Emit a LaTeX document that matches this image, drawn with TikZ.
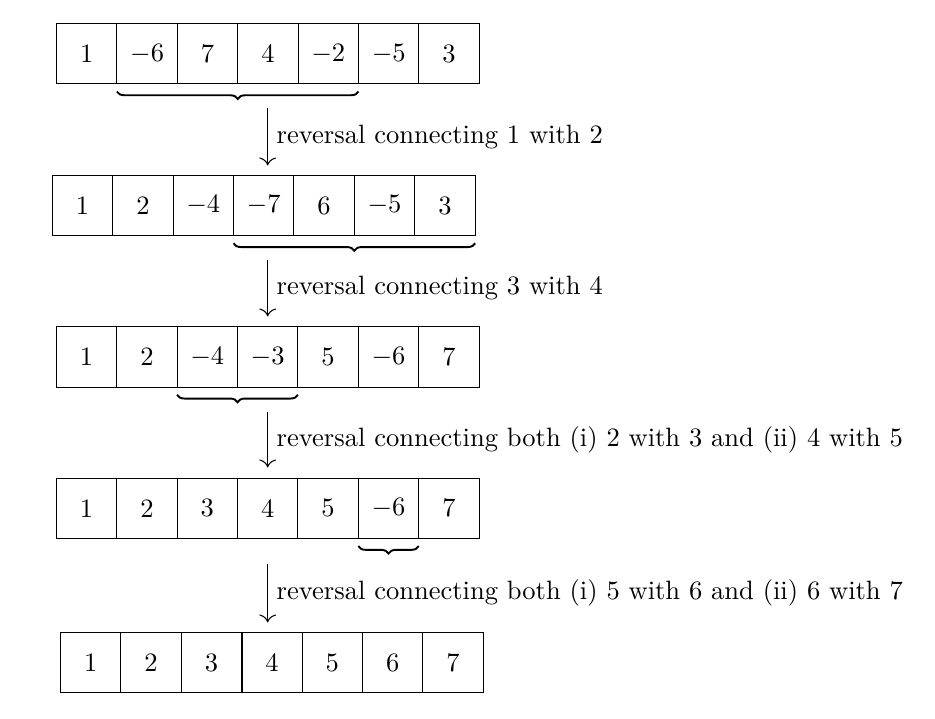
\documentclass[tikz,border=0pt]{standalone}
\usetikzlibrary{decorations.pathreplacing,arrows.meta}
\newcommand\sct[1]{\scalebox{1.25}{#1}}
\begin{document}
\begin{tikzpicture}[x=0.016556cm,y=-0.016556cm, line width=0.5pt,
  cell/.style={draw, minimum size=1cm, inner sep=0pt, outer sep=0pt, anchor=center},
  bracedeco/.style={decorate, decoration={brace, mirror, amplitude=3.5pt}, line width=0.9pt},
  steparrow/.style={-{To[scale=1.4]}},
  lbl/.style={right, inner sep=4pt}]
\useasboundingbox (0,0) rectangle (935,719);
\foreach \row/\lx/\cy/\vals in {%
  1/56.5/53.7/{1,$-6$,7,4,$-2$,$-5$,3},%
  2/52.3/205.5/{1,2,$-4$,$-7$,6,$-5$,3},%
  3/56.3/357/{1,2,$-4$,$-3$,5,$-6$,7},%
  4/56.3/508.3/{1,2,3,4,5,$-6$,7},%
  5/60.5/662.5/{1,2,3,4,5,6,7}}{%
  \foreach \v [count=\i] in \vals {%
    \node[cell] (r\row-\i) at ({\lx+(\i-0.5)*60.4},\cy) {\sct{\v}};
  }
}
% braces
\draw[bracedeco] ([yshift=-3.6pt]r1-2.south west) -- ([yshift=-3.6pt]r1-5.south east);
\draw[bracedeco] ([yshift=-3.6pt]r2-4.south west) -- ([yshift=-3.6pt]r2-7.south east);
\draw[bracedeco] ([yshift=-3.6pt]r3-3.south west) -- ([yshift=-3.6pt]r3-4.south east);
\draw[bracedeco] ([yshift=-3.6pt]r4-6.south west) -- ([yshift=-3.6pt]r4-6.south east);
% thicker separator in last row
\draw[line width=0.9pt] (r5-3.north east) -- (r5-3.south east);
% arrows
\coordinate (a1s) at (267.7,108);   \coordinate (a1e) at (267.7,165.5);
\coordinate (a2s) at (267.7,260);   \coordinate (a2e) at (267.7,316.5);
\coordinate (a3s) at (267.7,411.7); \coordinate (a3e) at (267.7,467.5);
\coordinate (a4s) at (267.7,564);   \coordinate (a4e) at (267.7,622.5);
\draw[steparrow] (a1s) -- node[lbl] (l1) {\sct{reversal connecting 1 with 2}} (a1e);
\draw[steparrow] (a2s) -- node[lbl] (l2) {\sct{reversal connecting 3 with 4}} (a2e);
\draw[steparrow] (a3s) -- node[lbl] (l3) {\sct{reversal connecting both (i) 2 with 3 and (ii) 4 with 5}} (a3e);
\draw[steparrow] (a4s) -- node[lbl] (l4) {\sct{reversal connecting both (i) 5 with 6 and (ii) 6 with 7}} (a4e);
\end{tikzpicture}
\end{document}
